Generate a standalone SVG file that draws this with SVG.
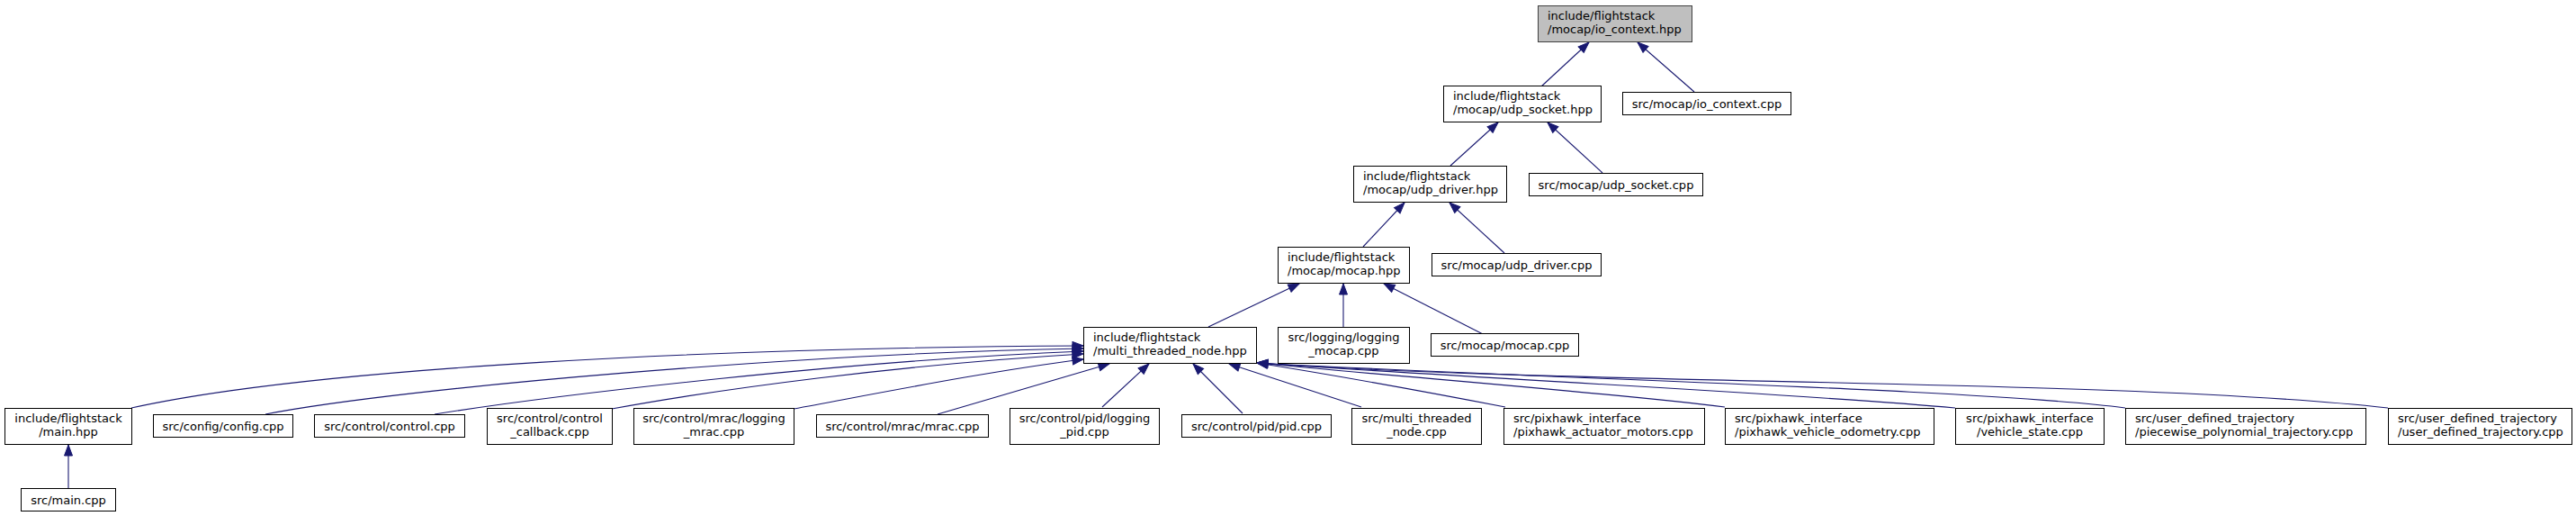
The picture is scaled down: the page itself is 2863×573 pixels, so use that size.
<svg xmlns="http://www.w3.org/2000/svg" width="2863" height="573" viewBox="0 0 2863 573">
<style>
.n rect{fill:#ffffff;stroke:#000000;stroke-width:1}
.n.root rect{fill:#bfbfbf;stroke:#404040}
.n text{font-family:"DejaVu Sans","Liberation Sans",sans-serif;font-size:13px;fill:#000000}
.c{text-anchor:middle}
.e path{fill:none;stroke:#191970;stroke-width:1.1;marker-end:url(#ah)}
</style>
<defs>
<marker id="ah" markerUnits="userSpaceOnUse" viewBox="0 0 14 11" markerWidth="14" markerHeight="11" refX="13" refY="5.5" orient="auto">
<path d="M1,1 L13,5.5 L1,10 Z" fill="#191970" stroke="#191970" stroke-width="1"/>
</marker>
</defs>
<rect width="2863" height="573" fill="#ffffff"/>
<g id="edges" class="e">
<path d="M1713,96 L1766,47"/>
<path d="M1883,102 L1820,47"/>
<path d="M1612,184 L1665,136"/>
<path d="M1781,192 L1720,136"/>
<path d="M1515,274 L1561,225"/>
<path d="M1672,281 L1611,225"/>
<path d="M1343,363 L1444,315"/>
<path d="M1493,363 L1493,315"/>
<path d="M1648,371 L1538,315"/>
<path d="M76,542 L76,494"/>
<path d="M146,453 C350,408 800,386 1204,384"/>
<path d="M295,460 C450,430 900,392 1204,387"/>
<path d="M483,460 C620,438 950,400 1204,390"/>
<path d="M680,454 C800,432 1000,405 1204,393"/>
<path d="M882,454 C980,436 1100,412 1204,399"/>
<path d="M1042,460 L1233,404"/>
<path d="M1225,452 L1277,404"/>
<path d="M1381,459 L1326,404"/>
<path d="M1513,452 L1366,404"/>
<path d="M1673,452 C1600,438 1480,416 1397,403"/>
<path d="M1917,452 C1800,437 1550,418 1397,403"/>
<path d="M2173,453 C2000,437 1600,418 1397,403"/>
<path d="M2362,453 C2200,432 1700,420 1397,403"/>
<path d="M2654,453 C2350,420 1750,428 1397,403"/>
</g>
<g id="n_io_context_hpp" class="n root"><rect x="1709.5" y="6.5" width="171" height="40"/><text x="1720" y="22">include/flightstack</text><text x="1720" y="36.5">/mocap/io_context.hpp</text></g>
<g id="n_udp_socket_hpp" class="n"><rect x="1604.5" y="95.5" width="175" height="40"/><text x="1615" y="111">include/flightstack</text><text x="1615" y="125.5">/mocap/udp_socket.hpp</text></g>
<g id="n_io_context_cpp" class="n"><rect x="1803.5" y="102.5" width="187" height="25"/><text class="c" x="1897" y="119.5">src/mocap/io_context.cpp</text></g>
<g id="n_udp_driver_hpp" class="n"><rect x="1504.5" y="184.5" width="170" height="40"/><text x="1515" y="200">include/flightstack</text><text x="1515" y="214.5">/mocap/udp_driver.hpp</text></g>
<g id="n_udp_socket_cpp" class="n"><rect x="1699.5" y="192.5" width="193" height="25"/><text class="c" x="1796" y="209.5">src/mocap/udp_socket.cpp</text></g>
<g id="n_mocap_hpp" class="n"><rect x="1420.5" y="274.5" width="146" height="40"/><text x="1431" y="290">include/flightstack</text><text x="1431" y="304.5">/mocap/mocap.hpp</text></g>
<g id="n_udp_driver_cpp" class="n"><rect x="1591.5" y="281.5" width="188" height="25"/><text class="c" x="1685.5" y="298.5">src/mocap/udp_driver.cpp</text></g>
<g id="n_multi_threaded_node_hpp" class="n"><rect x="1204.5" y="363.5" width="192" height="40"/><text x="1215" y="379">include/flightstack</text><text x="1215" y="393.5">/multi_threaded_node.hpp</text></g>
<g id="n_logging_mocap_cpp" class="n"><rect x="1420.5" y="363.5" width="146" height="40"/><text class="c" x="1493.5" y="379">src/logging/logging</text><text class="c" x="1493.5" y="393.5">_mocap.cpp</text></g>
<g id="n_mocap_cpp" class="n"><rect x="1590.5" y="370.5" width="164" height="25"/><text class="c" x="1672.5" y="387.5">src/mocap/mocap.cpp</text></g>
<g id="n_main_hpp" class="n"><rect x="5.5" y="453.5" width="141" height="40"/><text class="c" x="76" y="469">include/flightstack</text><text class="c" x="76" y="483.5">/main.hpp</text></g>
<g id="n_config_cpp" class="n"><rect x="170.5" y="460.5" width="155" height="25"/><text class="c" x="248" y="477.5">src/config/config.cpp</text></g>
<g id="n_control_cpp" class="n"><rect x="349.5" y="460.5" width="167" height="25"/><text class="c" x="433" y="477.5">src/control/control.cpp</text></g>
<g id="n_control_callback_cpp" class="n"><rect x="541.5" y="453.5" width="139" height="40"/><text class="c" x="611" y="469">src/control/control</text><text class="c" x="611" y="483.5">_callback.cpp</text></g>
<g id="n_logging_mrac_cpp" class="n"><rect x="704.5" y="453.5" width="178" height="40"/><text class="c" x="793.5" y="469">src/control/mrac/logging</text><text class="c" x="793.5" y="483.5">_mrac.cpp</text></g>
<g id="n_mrac_cpp" class="n"><rect x="907.5" y="460.5" width="191" height="25"/><text class="c" x="1003" y="477.5">src/control/mrac/mrac.cpp</text></g>
<g id="n_logging_pid_cpp" class="n"><rect x="1122.5" y="453.5" width="166" height="40"/><text class="c" x="1205.5" y="469">src/control/pid/logging</text><text class="c" x="1205.5" y="483.5">_pid.cpp</text></g>
<g id="n_pid_cpp" class="n"><rect x="1313.5" y="460.5" width="166" height="25"/><text class="c" x="1396.5" y="477.5">src/control/pid/pid.cpp</text></g>
<g id="n_multi_threaded_node_cpp" class="n"><rect x="1502.5" y="453.5" width="144" height="40"/><text class="c" x="1574.5" y="469">src/multi_threaded</text><text class="c" x="1574.5" y="483.5">_node.cpp</text></g>
<g id="n_pixhawk_actuator_motors_cpp" class="n"><rect x="1671.5" y="453.5" width="223" height="40"/><text x="1682" y="469">src/pixhawk_interface</text><text x="1682" y="483.5">/pixhawk_actuator_motors.cpp</text></g>
<g id="n_pixhawk_vehicle_odometry_cpp" class="n"><rect x="1917.5" y="453.5" width="232" height="40"/><text x="1928" y="469">src/pixhawk_interface</text><text x="1928" y="483.5">/pixhawk_vehicle_odometry.cpp</text></g>
<g id="n_vehicle_state_cpp" class="n"><rect x="2173.5" y="453.5" width="165" height="40"/><text class="c" x="2256" y="469">src/pixhawk_interface</text><text class="c" x="2256" y="483.5">/vehicle_state.cpp</text></g>
<g id="n_piecewise_polynomial_trajectory_cpp" class="n"><rect x="2362.5" y="453.5" width="267" height="40"/><text x="2373" y="469">src/user_defined_trajectory</text><text x="2373" y="483.5">/piecewise_polynomial_trajectory.cpp</text></g>
<g id="n_user_defined_trajectory_cpp" class="n"><rect x="2654.5" y="453.5" width="204" height="40"/><text x="2665" y="469">src/user_defined_trajectory</text><text x="2665" y="483.5">/user_defined_trajectory.cpp</text></g>
<g id="n_main_cpp" class="n"><rect x="23.5" y="542.5" width="105" height="25"/><text class="c" x="76" y="559.5">src/main.cpp</text></g>
</svg>
